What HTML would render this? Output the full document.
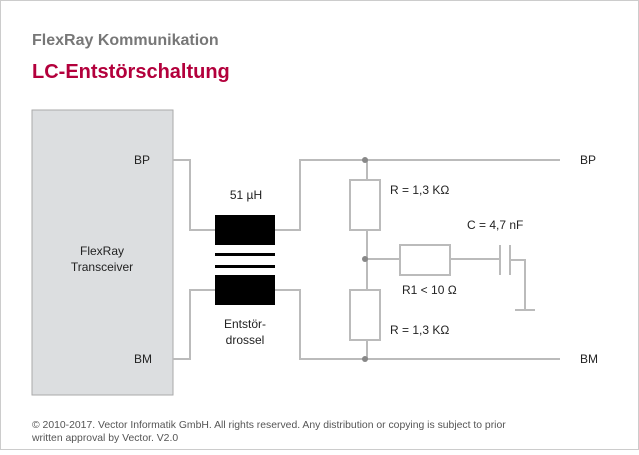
<!DOCTYPE html>
<html><head><style>
body{margin:0;background:#fff;}
svg text{font-family:"Liberation Sans",sans-serif;}
</style></head><body>
<svg width="639" height="450" viewBox="0 0 639 450" xmlns="http://www.w3.org/2000/svg">
<rect x="0.5" y="0.5" width="638" height="449" fill="#fff" stroke="#ccc"/>
<text x="32" y="45" font-size="16" font-weight="bold" fill="#777">FlexRay Kommunikation</text>
<text x="32" y="78" font-size="20" font-weight="bold" fill="#b3003c">LC-Entstörschaltung</text>
<rect x="32" y="110" width="141" height="285" fill="#dcdee0" stroke="#aaa"/>
<text x="102" y="255" font-size="12" text-anchor="middle" fill="#222">FlexRay</text>
<text x="102" y="271" font-size="12" text-anchor="middle" fill="#222">Transceiver</text>
<text x="134" y="164" font-size="12" fill="#222">BP</text>
<text x="134" y="363" font-size="12" fill="#222">BM</text>
<g fill="none" stroke="#bbb" stroke-width="2">
<polyline points="173,160 190,160 190,230 215,230"/>
<polyline points="173,359 190,359 190,290 215,290"/>
<polyline points="275,230 300,230 300,160 560,160"/>
<polyline points="275,290 300,290 300,359 560,359"/>
<line x1="367" y1="160" x2="367" y2="359"/>
<rect x="350" y="180" width="30" height="50" fill="#fff"/>
<rect x="350" y="290" width="30" height="50" fill="#fff"/>
<line x1="367" y1="259" x2="500" y2="259"/>
<rect x="400" y="245" width="50" height="30" fill="#fff"/>
<line x1="500" y1="245" x2="500" y2="275"/>
<line x1="510" y1="245" x2="510" y2="275"/>
<polyline points="510,260 525,260 525,310"/>
<line x1="515" y1="310" x2="535" y2="310"/>
</g>
<g fill="#888"><circle cx="365" cy="160" r="3"/><circle cx="365" cy="259" r="3"/><circle cx="365" cy="359" r="3"/></g>
<rect x="215" y="215" width="60" height="30" fill="#000"/>
<rect x="215" y="253" width="60" height="3" fill="#000"/>
<rect x="215" y="265" width="60" height="3" fill="#000"/>
<rect x="215" y="275" width="60" height="30" fill="#000"/>
<text x="246" y="199" font-size="12" text-anchor="middle" fill="#222">51 µH</text>
<text x="245" y="328" font-size="12" text-anchor="middle" fill="#222">Entstör-</text>
<text x="245" y="344" font-size="12" text-anchor="middle" fill="#222">drossel</text>
<text x="390" y="194" font-size="12" fill="#222">R = 1,3 KΩ</text>
<text x="390" y="334" font-size="12" fill="#222">R = 1,3 KΩ</text>
<text x="467" y="229" font-size="12" fill="#222">C = 4,7 nF</text>
<text x="402" y="294" font-size="12" fill="#222">R1 &lt; 10 Ω</text>
<text x="580" y="164" font-size="12" fill="#222">BP</text>
<text x="580" y="363" font-size="12" fill="#222">BM</text>
<text x="32" y="428" font-size="10.4" fill="#555">© 2010-2017. Vector Informatik GmbH. All rights reserved. Any distribution or copying is subject to prior</text>
<text x="32" y="441" font-size="10.4" fill="#555">written approval by Vector. V2.0</text>
</svg>
</body></html>
